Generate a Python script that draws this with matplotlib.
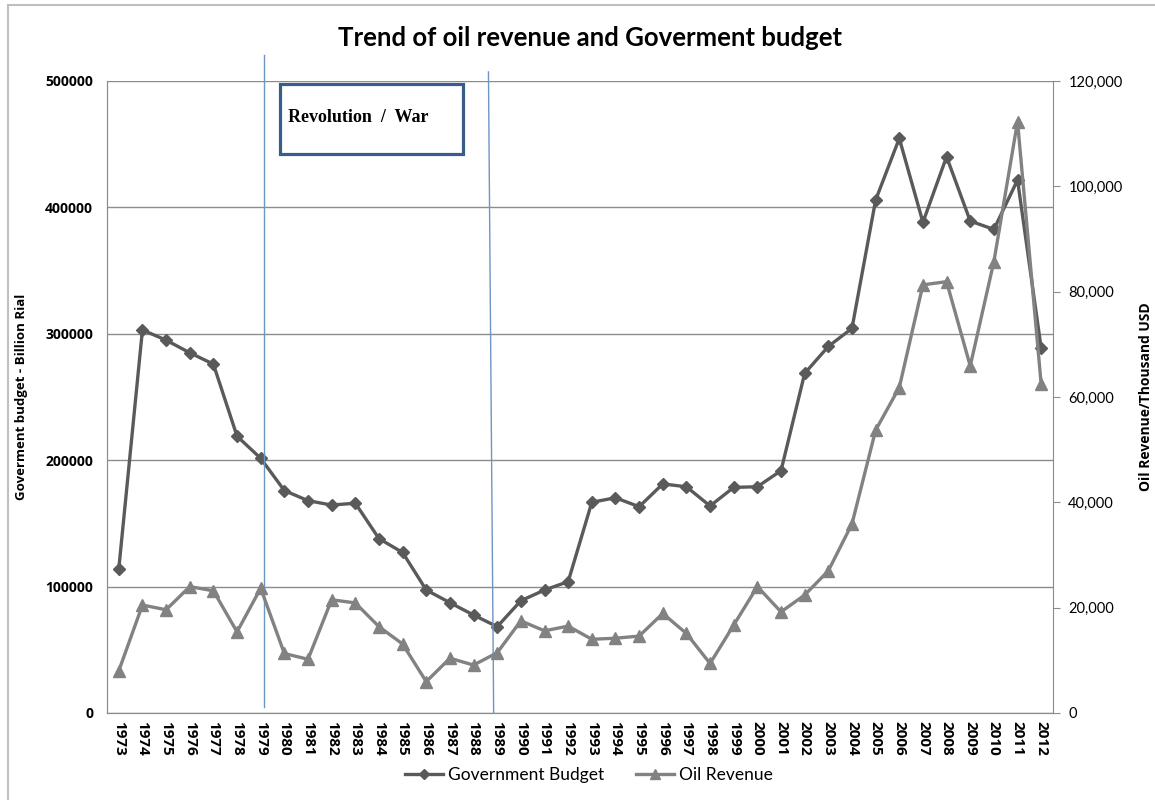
import matplotlib
matplotlib.use("Agg")
import matplotlib.pyplot as plt
from matplotlib import patches
from matplotlib.lines import Line2D
from matplotlib.ticker import FuncFormatter, MultipleLocator

years = list(range(1973, 2013))

# government budget, billion rial
budget = [114000, 303000, 295000, 285000, 276000, 219000, 201500, 176000, 168000, 164500,
          166000, 138000, 127000, 97300, 87300, 77500, 68300, 88800, 97300, 103900,
          166700, 170300, 163200, 181200, 179000, 163800, 178500, 179000, 191700, 268700,
          290000, 304300, 405800, 454600, 388200, 440100, 389200, 382600, 421700, 288500]

# oil revenue, thousand USD
oil_revenue = [8000, 20500, 19600, 24000, 23200, 15400, 23700, 11300, 10200, 21500,
               20900, 16400, 13100, 5950, 10400, 9100, 11450, 17500, 15600, 16500,
               14000, 14200, 14600, 18900, 15100, 9400, 16700, 24000, 19200, 22400,
               27000, 35900, 53700, 61800, 81300, 81900, 65900, 85700, 112300, 62400]

# revolution / war period markers (category positions)
war_start = 1979.12
war_end = 1988.85

plt.rcParams['font.family'] = ['Lato', 'DejaVu Sans']
bold_font = ['Open Sans', 'DejaVu Sans']

fig = plt.figure(figsize=(11.55, 8), dpi=100)
ax = fig.add_axes([0.0926, 0.10875, 0.8191, 0.79])
ax2 = ax.twinx()

x = [y - years[0] for y in years]
grid_c = '#8c8c8c'

ax.plot(x, budget, color='#5a5a5a', lw=2.4, marker='D', ms=6.5, zorder=3)
ax2.plot(x, oil_revenue, color='#828282', lw=2.4, marker='^', ms=9, zorder=3)

ax.set_xlim(-0.5, len(years) - 0.5)
ax.set_ylim(0, 500000)
ax2.set_ylim(0, 120000)

ax.yaxis.set_major_locator(MultipleLocator(100000))
ax2.yaxis.set_major_locator(MultipleLocator(20000))
ax2.yaxis.set_major_formatter(FuncFormatter(lambda v, p: f"{int(v):,}"))

ax.set_xticks(x)
ax.set_xticklabels([str(y) for y in years], rotation=-90, fontsize=11, fontweight='bold',
                   family=bold_font)
ax.tick_params(axis='x', length=0, pad=6)
ax.tick_params(axis='y', length=0, pad=10, labelsize=10)
for lab in ax.get_yticklabels():
    lab.set_fontweight('bold')
    lab.set_family(bold_font)
ax2.tick_params(axis='y', length=5, color=grid_c, labelsize=10.5, pad=6)

ax.grid(axis='y', color=grid_c, lw=1)
for a in (ax, ax2):
    for s in a.spines.values():
        s.set_color(grid_c)
    a.spines['top'].set_visible(False)
ax.spines['right'].set_visible(False)

ax.set_ylabel('Goverment budget - Billion Rial', fontsize=9.5, fontweight='bold',
              family=bold_font, labelpad=12)
ax2.set_ylabel('Oil Revenue/Thousand USD', fontsize=10, fontweight='bold',
               family=bold_font, labelpad=12)

# revolution / war period lines
ax.plot([war_start - years[0]] * 2, [4750, 520500], color='#6f94c6', lw=1, clip_on=False, zorder=4)
ax.plot([war_end - years[0] - 0.22, war_end - years[0]], [507200, 0], color='#6f94c6', lw=1,
        clip_on=False, zorder=4)

box = patches.Rectangle((0.1829, 0.8845), 0.1934, 0.1108, transform=ax.transAxes,
                        fill=True, facecolor='white', edgecolor='#385d8a', lw=2.3, zorder=5)
ax.add_patch(box)
ax.text(0.1913, 0.943, 'Revolution  /  War', transform=ax.transAxes, fontsize=13,
        fontweight='bold', family='Liberation Serif', va='center', ha='left', zorder=6)

fig.text(0.511, 0.952, 'Trend of oil revenue and Goverment budget', ha='center', va='center',
         fontsize=18.5, fontweight='bold')

handles = [Line2D([], [], color='#5a5a5a', lw=2.4, marker='D', ms=5),
           Line2D([], [], color='#828282', lw=2.4, marker='^', ms=7)]
fig.legend(handles, ['Government Budget', 'Oil Revenue'], loc='center', ncol=2,
           bbox_to_anchor=(0.51, 0.031), frameon=False, fontsize=12.5, handlelength=2.2,
           handletextpad=0.3, columnspacing=1.8)

# outer chart border
fig.add_artist(patches.Rectangle((8 / 1155, -0.05), 1.0, 0.9938 + 0.05, transform=fig.transFigure,
                                 fill=False, edgecolor='#bfbfbf', lw=1.5))

fig.savefig('out.png', dpi=100, facecolor='white')
